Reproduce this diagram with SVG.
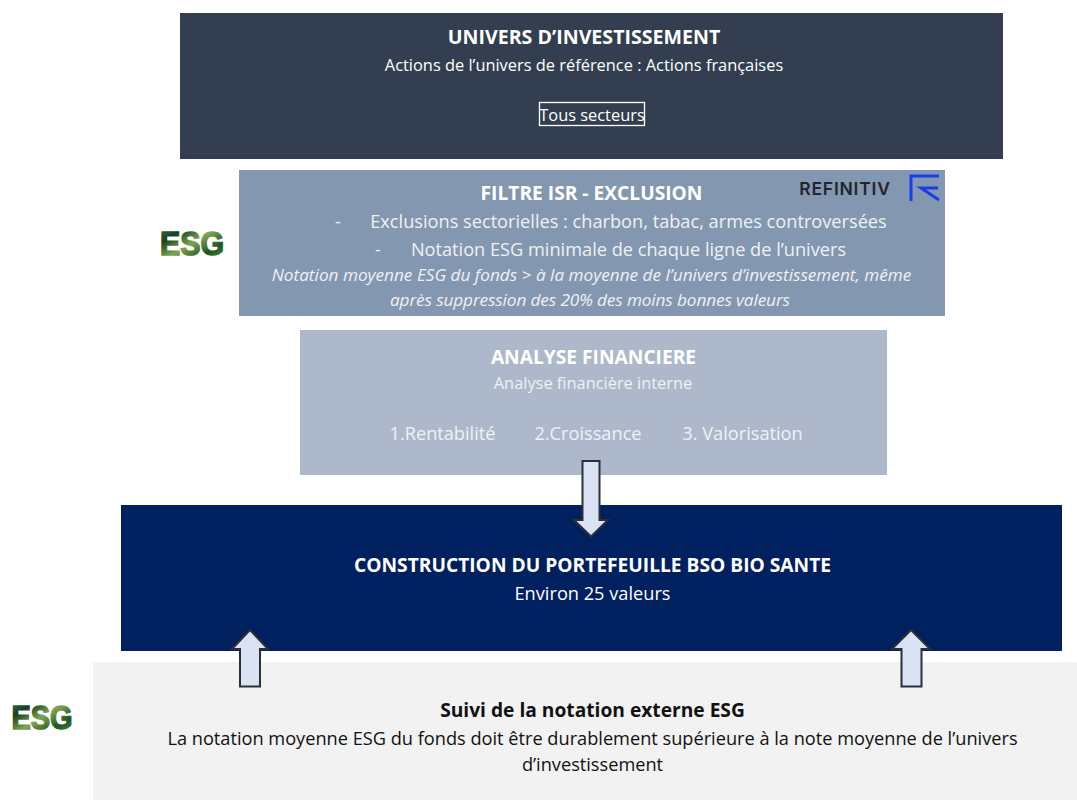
<svg xmlns="http://www.w3.org/2000/svg" width="1077" height="800" viewBox="0 0 1077 800">
<style>
text{font-family:"Open Sans","Noto Sans",sans-serif;text-anchor:middle;font-size:16.400px}
.w{fill:#fff}.l{fill:#eef1f5}.k{fill:#111}
.b{font-weight:700;font-size:19.200px}
.m{font-size:18.200px}
.i{font-style:italic;font-size:17.200px}
.arrow{fill:#dae3f3;stroke:#2b2f36;stroke-width:2;stroke-linejoin:miter}
.esg{font-family:"Liberation Sans",sans-serif;font-weight:700;font-size:34px;fill:url(#g);stroke:url(#g);stroke-width:1.600}
</style>
<defs>
<linearGradient id="g" x1="0" y1="0" x2="1" y2="1">
<stop offset="0" stop-color="#4d7c6a"/><stop offset=".25" stop-color="#14401a"/><stop offset=".5" stop-color="#7ea552"/><stop offset=".75" stop-color="#1f5422"/><stop offset="1" stop-color="#5f9a3c"/>
</linearGradient>
</defs>
<rect width="1077" height="800" fill="#fff"/>
<g id="univers">
<rect x="180" y="13" width="823" height="146" fill="#333f50"/>
<text class="w b" x="584" y="44" style="font-size:19.600px">UNIVERS D’INVESTISSEMENT</text>
<text class="w" x="584" y="70.500">Actions de l’univers de référence : Actions françaises</text>
<rect x="539.5" y="102.500" width="105" height="23" fill="none" stroke="#fff" stroke-width="1.300"/>
<text class="w" x="592" y="120.500">Tous secteurs</text>
</g>
<g id="filtre">
<rect x="239" y="170" width="706" height="146" fill="#8497b0"/>
<text class="w b" x="591.500" y="200">FILTRE ISR - EXCLUSION</text>
<text class="l m" x="338" y="228">-</text>
<text class="l m" x="628.500" y="228">Exclusions sectorielles : charbon, tabac, armes controversées</text>
<text class="l m" x="378" y="256">-</text>
<text class="l m" x="628.500" y="256">Notation ESG minimale de chaque ligne de l’univers</text>
<text class="l i" x="591.500" y="280.500">Notation moyenne ESG du fonds &gt; à la moyenne de l’univers d’investissement, même</text>
<text class="l i" x="590" y="305.500" textLength="400">après suppression des 20% des moins bonnes valeurs</text>
<text x="845" y="194.500" style="font-size:17.500px;font-weight:600;letter-spacing:.8px;fill:#22262c;font-family:'Inter','Open Sans',sans-serif">REFINITIV</text>
<path d="M911 201V176H939M939 200L921 188H938" fill="none" stroke="#1a3cf0" stroke-width="3"/>
</g>
<g id="analyse">
<rect x="300" y="330" width="587" height="145" fill="#adb9ca"/>
<text class="w b" x="593.500" y="364">ANALYSE FINANCIERE</text>
<text class="l" x="593" y="388.500">Analyse financière interne</text>
<text class="l m" x="442.500" y="440">1.Rentabilité</text>
<text class="l m" x="588" y="440">2.Croissance</text>
<text class="l m" x="742.500" y="440">3. Valorisation</text>
</g>
<g id="construction">
<rect x="121" y="505" width="941" height="146" fill="#002060"/>
<text class="w b" x="592.500" y="572">CONSTRUCTION DU PORTEFEUILLE BSO BIO SANTE</text>
<text class="w m" x="592.500" y="600">Environ 25 valeurs</text>
</g>
<g id="suivi">
<rect x="93" y="662" width="984" height="138" fill="#f2f2f2"/>
<text class="k b" x="592.500" y="716.500">Suivi de la notation externe ESG</text>
<text class="k m" x="592.500" y="745">La notation moyenne ESG du fonds doit être durablement supérieure à la note moyenne de l’univers</text>
<text class="k m" x="592.500" y="771">d’investissement</text>
</g>
<g id="esg-1"><text class="esg" x="192" y="255" textLength="64" lengthAdjust="spacingAndGlyphs">ESG</text></g>
<g id="esg-2"><text class="esg" x="42" y="729" textLength="61" lengthAdjust="spacingAndGlyphs">ESG</text></g>
<g id="connectors">
<path class="arrow" d="M582.500 461H599.500V520H608L591 536.500L574 520H582.500Z"/>
<path class="arrow" d="M240 686.500H260V649H268L250 630L232 649H240Z"/>
<path class="arrow" d="M901.500 686.500H921.500V649H930L911 630L892 649H901.500Z"/>
</g>
</svg>
